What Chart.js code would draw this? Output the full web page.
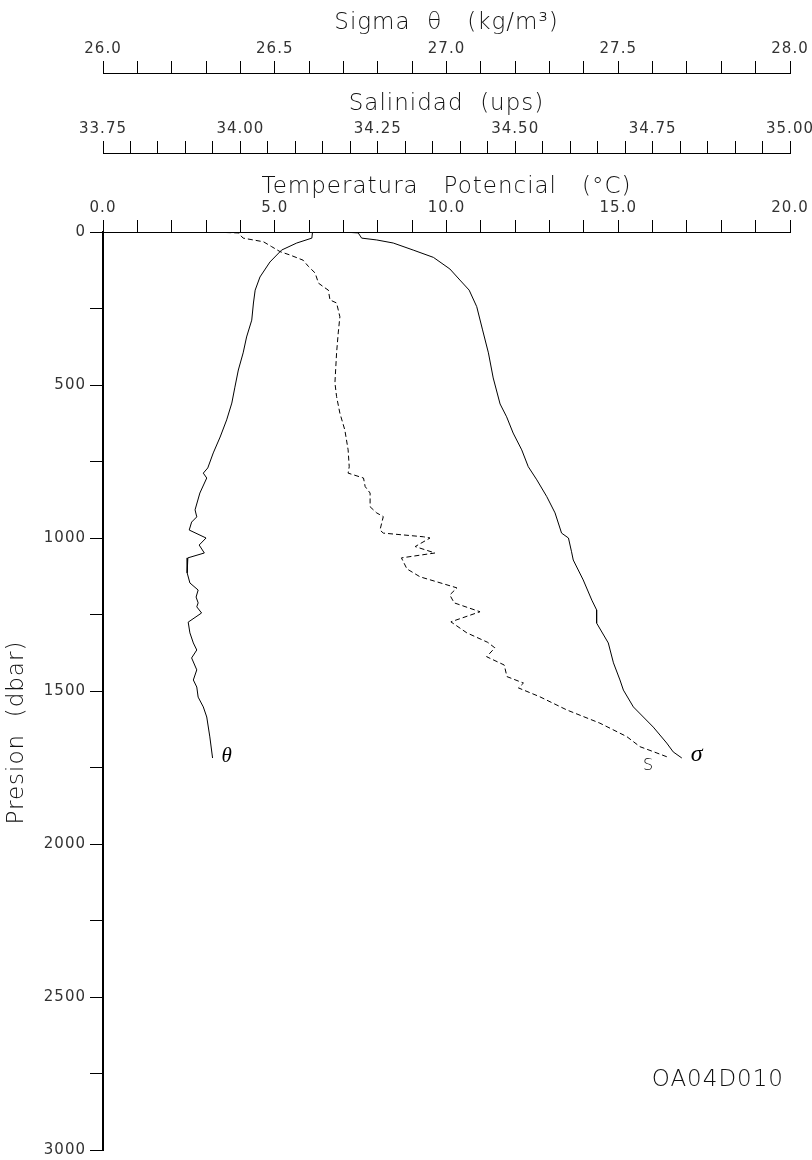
<!DOCTYPE html>
<html>
<head>
<meta charset="utf-8">
<title>OA04D010</title>
<script src="https://cdn.jsdelivr.net/npm/chart.js@4.4.0/dist/chart.umd.min.js"></script>
<style>
  body { margin: 0; background: #fff; }
  canvas { display: block; }
</style>
</head>
<body>
<canvas id="grafico" width="812" height="1160"></canvas>
<script>
// perfil OA04D010: temperatura potencial, salinidad y sigma theta vs presion
const presionTheta = [0, 20, 36, 59, 98, 147, 190, 232, 288, 343, 395, 451, 507, 559, 614, 670, 722, 771, 788, 804,
  853, 908, 931, 948, 974, 1000, 1023, 1049, 1065, 1114, 1147, 1170, 1193, 1212, 1225, 1245, 1275, 1310, 1343, 1366,
  1392, 1431, 1464, 1487, 1520, 1552, 1585, 1650, 1719];
const theta = [6.10, 6.08, 5.64, 5.20, 4.86, 4.57, 4.43, 4.38, 4.33, 4.18, 4.08, 3.94, 3.84, 3.75, 3.60, 3.41, 3.21, 3.05, 2.92, 3.02,
  2.82, 2.68, 2.73, 2.58, 2.51, 3.00, 2.80, 2.95, 2.47, 2.45, 2.53, 2.77, 2.71, 2.77, 2.73, 2.87, 2.48, 2.53, 2.63, 2.73,
  2.58, 2.73, 2.63, 2.73, 2.77, 2.92, 3.02, 3.11, 3.19];

const presionSal = [0, 3, 20, 32, 48, 64, 75, 92, 113, 134, 167, 179, 190, 222, 232, 277, 330, 395, 493, 538,
  592, 647, 712, 767, 788, 804, 832, 853, 898, 918, 930, 974, 984, 996, 1000, 1028, 1049, 1065, 1101, 1127,
  1143, 1163, 1186, 1212, 1241, 1274, 1310, 1341, 1359, 1388, 1415, 1453, 1474, 1490, 1519, 1562, 1605, 1649, 1682, 1698, 1715];
const salinidad = [33.945, 33.996, 34.005, 34.042, 34.057, 34.072, 34.090, 34.114, 34.124, 34.136, 34.142, 34.151, 34.160, 34.163, 34.175, 34.181, 34.178, 34.175, 34.172, 34.175,
  34.181, 34.190, 34.196, 34.198, 34.196, 34.224, 34.227, 34.236, 34.236, 34.248, 34.260, 34.254, 34.260, 34.333, 34.345, 34.318, 34.354, 34.293, 34.303, 34.327,
  34.357, 34.394, 34.381, 34.389, 34.436, 34.383, 34.412, 34.450, 34.463, 34.448, 34.480, 34.485, 34.515, 34.506, 34.545, 34.594, 34.654, 34.703, 34.727, 34.751, 34.776];

const presionSigma = [0, 3, 20, 26, 36, 59, 83, 121, 157, 190, 244, 320, 395, 477, 562, 604, 657, 712, 767, 810,
  865, 918, 984, 1000, 1045, 1072, 1137, 1203, 1235, 1278, 1343, 1408, 1464, 1497, 1552, 1618, 1670, 1699, 1719];
const sigma = [26.698, 26.743, 26.753, 26.797, 26.845, 26.903, 26.962, 27.010, 27.039, 27.066, 27.088, 27.105, 27.122, 27.136, 27.156, 27.175, 27.194, 27.219, 27.238, 27.263,
  27.292, 27.316, 27.335, 27.355, 27.364, 27.369, 27.398, 27.423, 27.437, 27.437, 27.471, 27.486, 27.505, 27.515, 27.544, 27.602, 27.641, 27.660, 27.685];

const ticksTemp = [0, 5, 10, 15, 20];
const ticksSal = [33.75, 34.00, 34.25, 34.50, 34.75, 35.00];
const ticksSigma = [26.0, 26.5, 27.0, 27.5, 28.0];
const ticksPresion = [0, 500, 1000, 1500, 2000, 2500, 3000];

function puntos(xs, ps) {
  return xs.map((v, i) => ({x: v, y: ps[i]}));
}

// marcas mayores + n-1 menores entre cada par
function subdividir(mayores, n) {
  return (scale) => {
    let t = [];
    for (let i = 0; i < mayores.length - 1; i++) {
      let paso = (mayores[i + 1] - mayores[i]) / n;
      for (let k = 0; k < n; k++) t.push({value: mayores[i] + k * paso});
    }
    t.push({value: mayores[mayores.length - 1]});
    scale.ticks = t;
  };
}

function etiqueta(mayores, dec) {
  return (v) => mayores.some(m => Math.abs(m - v) < 1e-6) ? Number(v).toFixed(dec) : '';
}

const fuenteTick = {family: 'DejaVu Sans', size: 15, weight: 'normal'};
const fuenteTitulo = {family: 'DejaVu Sans', size: 23, weight: '200'};

function ejeSuperior(min, max, mayores, n, dec, titulo, h, padTitulo, peso) {
  return {
    type: 'linear', axis: 'x', position: 'top', min: min, max: max, weight: peso,
    afterBuildTicks: subdividir(mayores, n),
    afterFit: (s) => { s.height = h; s.paddingLeft = 0; s.paddingRight = 0; },
    grid: {drawOnChartArea: false, drawTicks: true, tickLength: 12, color: '#000', lineWidth: 1},
    border: {display: true, color: '#000', width: 1},
    ticks: {callback: etiqueta(mayores, dec), autoSkip: false, maxRotation: 0, minRotation: 0, padding: 3, color: '#333', font: fuenteTick},
    title: {display: true, text: titulo, color: '#111', font: fuenteTitulo, padding: {top: padTitulo, bottom: 0}}
  };
}

const rotulos = {
  id: 'rotulos',
  beforeDraw(chart) {
    chart.ctx.letterSpacing = '1px';
  },
  afterDraw(chart) {
    const ctx = chart.ctx;
    const {x, xs, xg, y} = chart.scales;
    ctx.save();
    ctx.fillStyle = '#000';
    ctx.textBaseline = 'middle';
    ctx.textAlign = 'left';
    let n = theta.length - 1;
    ctx.font = 'italic 21px "Liberation Serif"';
    ctx.fillText('θ', x.getPixelForValue(theta[n]) + 9, y.getPixelForValue(presionTheta[n]) - 2);
    n = sigma.length - 1;
    ctx.font = 'italic 24px "Liberation Serif"';
    ctx.fillText('σ', xg.getPixelForValue(sigma[n]) + 9, y.getPixelForValue(presionSigma[n]) - 3);
    n = salinidad.length - 1;
    ctx.font = '200 16px "DejaVu Sans"';
    ctx.fillText('S', xs.getPixelForValue(salinidad[n]) - 24, y.getPixelForValue(presionSal[n]) + 9);
    ctx.font = '200 23px "DejaVu Sans"';
    ctx.fillStyle = '#111';
    ctx.textAlign = 'right';
    ctx.fillText('OA04D010', chart.chartArea.right - 6, 1080);
    ctx.restore();
    ctx.letterSpacing = '0px';
  }
};

const comun = {showLine: true, pointRadius: 0, borderColor: '#000', borderWidth: 1, fill: false, tension: 0, yAxisID: 'y'};

new Chart(document.getElementById('grafico'), {
  type: 'scatter',
  data: {
    datasets: [
      Object.assign({label: 'Temperatura potencial', data: puntos(theta, presionTheta), xAxisID: 'x'}, comun),
      Object.assign({label: 'Salinidad', data: puntos(salinidad, presionSal), xAxisID: 'xs', borderDash: [5, 3]}, comun),
      Object.assign({label: 'Sigma theta', data: puntos(sigma, presionSigma), xAxisID: 'xg'}, comun)
    ]
  },
  options: {
    responsive: false,
    animation: false,
    devicePixelRatio: 1,
    layout: {padding: {left: 0, right: 22, top: 0, bottom: 10}},
    plugins: {legend: {display: false}, tooltip: {enabled: false}},
    scales: {
      xg: ejeSuperior(26, 28, ticksSigma, 5, 1, 'Sigma  θ   (kg/m³)', 73, 9, 3),
      xs: ejeSuperior(33.75, 35, ticksSal, 5, 2, 'Salinidad  (ups)', 80, 17, 2),
      x: ejeSuperior(0, 20, ticksTemp, 5, 1, 'Temperatura   Potencial   (°C)', 79, 20, 1),
      y: {
        type: 'linear', position: 'left', reverse: true, min: 0, max: 3000,
        afterBuildTicks: subdividir(ticksPresion, 2),
        afterFit: (s) => { s.width = 103; s.paddingTop = 0; s.paddingBottom = 0; },
        grid: {drawOnChartArea: false, drawTicks: true, tickLength: 13, color: '#000', lineWidth: 1},
        border: {display: true, color: '#000', width: 2},
        ticks: {callback: etiqueta(ticksPresion, 0), autoSkip: false, padding: 4, color: '#333', font: fuenteTick},
        title: {display: true, text: 'Presion  (dbar)' + ' '.repeat(10), color: '#111', font: fuenteTitulo, padding: {top: 3, bottom: 0}}
      }
    }
  },
  plugins: [rotulos]
});
</script>
</body>
</html>
